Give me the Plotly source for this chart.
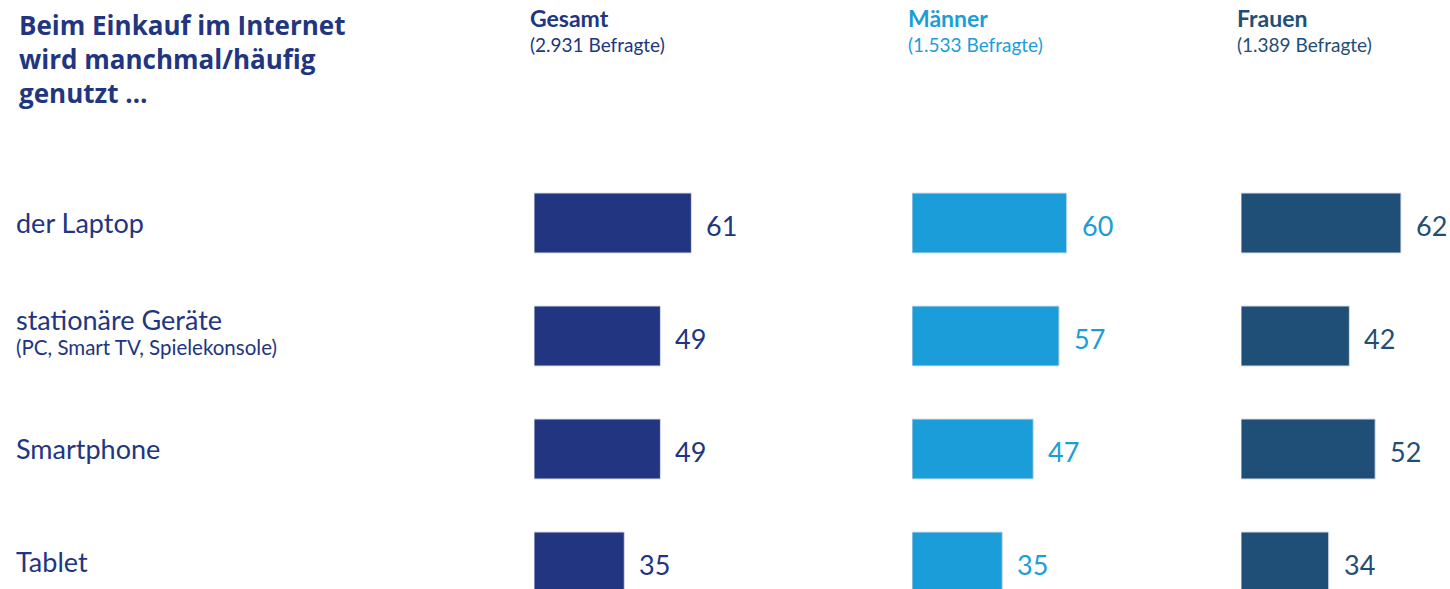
import plotly.graph_objects as go

# Survey: devices used sometimes/often when shopping online (in %)
categories = ["der Laptop", "stationäre Geräte", "Smartphone", "Tablet"]
category_notes = ["", "(PC, Smart TV, Spielekonsole)", "", ""]
gesamt = [61, 49, 49, 35]
maenner = [60, 57, 47, 35]
frauen = [62, 42, 52, 34]

groups = ["Gesamt", "Männer", "Frauen"]
group_counts = ["(2.931 Befragte)", "(1.533 Befragte)", "(1.389 Befragte)"]
group_colors = ["#223580", "#1b9dd9", "#1f4e76"]
series = [gesamt, maenner, frauen]

heading_lines = ["Beim Einkauf im Internet", "wird manchmal/häufig", "genutzt …"]

W, H = 1450, 589
FONT = "Lato"
NAVY = "#223580"

# pixel layout of the three panels
panel_left = [534, 912, 1241]
px_per_unit = 2.58
x_max = 80

# vertical scale: bar centres at 223 + 113*i px
row0, pitch, bar_px = 223, 113, 60
y_top = -row0 / pitch
y_bottom = (H - row0) / pitch

fig = go.Figure()

idx = list(range(len(categories)))
for k, (vals, color) in enumerate(zip(series, group_colors)):
    xa = "x" if k == 0 else f"x{k+1}"
    fig.add_trace(go.Bar(
        x=vals, y=idx, orientation="h",
        marker=dict(color=color, line=dict(color="#d9dde6", width=1)),
        width=bar_px / pitch,
        xaxis=xa, yaxis="y",
        hoverinfo="skip", showlegend=False,
    ))
    for i, v in enumerate(vals):
        fig.add_annotation(
            x=v, y=i, xref=xa, yref="y",
            text=str(v), showarrow=False,
            xanchor="left", yanchor="middle", xshift=13, yshift=-2,
            font=dict(family=FONT, size=27, color=color),
        )
    # panel headers
    x0 = (panel_left[k] - 6) / W
    fig.add_annotation(
        x=x0, y=1 - 18 / H, xref="paper", yref="paper",
        text=f"<b>{groups[k]}</b>", showarrow=False,
        xanchor="left", yanchor="middle",
        font=dict(family=FONT, size=23, color=color),
    )
    fig.add_annotation(
        x=x0, y=1 - 44 / H, xref="paper", yref="paper",
        text=group_counts[k], showarrow=False,
        xanchor="left", yanchor="middle",
        font=dict(family=FONT, size=19, color=color),
    )

# category labels on the left
for i, (cat, note) in enumerate(zip(categories, category_notes)):
    if note:
        fig.add_annotation(
            x=14 / W, y=i, xref="paper", yref="y", yshift=17,
            text=cat, showarrow=False, xanchor="left", yanchor="middle",
            font=dict(family=FONT, size=27, color=NAVY),
        )
        fig.add_annotation(
            x=14 / W, y=i, xref="paper", yref="y", yshift=-11,
            text=note, showarrow=False, xanchor="left", yanchor="middle",
            font=dict(family=FONT, size=20.5, color=NAVY),
        )
    else:
        fig.add_annotation(
            x=14 / W, y=i, xref="paper", yref="y", yshift=1,
            text=cat, showarrow=False, xanchor="left", yanchor="middle",
            font=dict(family=FONT, size=27, color=NAVY),
        )

# heading
fig.add_annotation(
    x=17 / W, y=1 - 5 / H, xref="paper", yref="paper",
    text="<b>" + "<br>".join(heading_lines) + "</b>", showarrow=False,
    xanchor="left", yanchor="top", align="left",
    font=dict(family="Open Sans", size=26, color=NAVY),
)

axis_common = dict(range=[0, x_max], visible=False, fixedrange=True)
layout_axes = {}
for k in range(3):
    name = "xaxis" if k == 0 else f"xaxis{k+1}"
    d0 = panel_left[k] / W
    d1 = min(1.0, (panel_left[k] + px_per_unit * x_max) / W)
    layout_axes[name] = dict(axis_common, domain=[d0, d1], anchor="y")

fig.update_layout(
    width=W, height=H,
    margin=dict(l=0, r=0, t=0, b=0),
    paper_bgcolor="white", plot_bgcolor="white",
    yaxis=dict(range=[y_bottom, y_top], visible=False, domain=[0, 1], fixedrange=True),
    **layout_axes,
)

fig.write_html("out.html")
